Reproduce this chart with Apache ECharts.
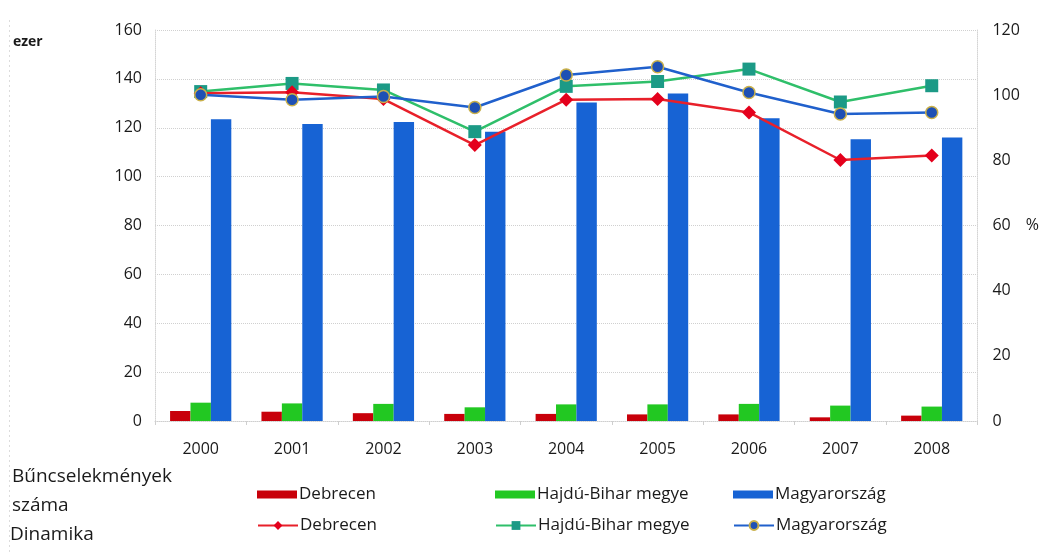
<!DOCTYPE html>
<html>
<head>
<meta charset="utf-8">
<script src="https://cdn.jsdelivr.net/npm/echarts@6/dist/echarts.min.js"></script>
<style>
html,body{margin:0;padding:0;background:#fff;}
#chart{width:1042px;height:552px;}
</style>
</head>
<body>
<div id="chart"></div>
<script>
// Data
var years = ['2000','2001','2002','2003','2004','2005','2006','2007','2008'];
// Bűncselekmények száma (ezer) - left axis
var debrecenCount = [4.1, 3.8, 3.2, 2.9, 2.9, 2.7, 2.7, 1.5, 2.2];
var hajduCount = [7.5, 7.2, 7.0, 5.6, 6.8, 6.8, 7.0, 6.3, 5.9];
var magyarCount = [123.5, 121.5, 122.4, 118.4, 130.3, 134.0, 123.9, 115.3, 116.0];
// Dinamika (%) - right axis
var debrecenDyn = [100.6, 100.9, 98.8, 84.7, 98.6, 98.8, 94.7, 80.1, 81.5];
var hajduDyn = [101.1, 103.6, 101.6, 88.8, 102.7, 104.2, 108.0, 97.9, 102.9];
var magyarDyn = [100.1, 98.6, 99.6, 96.2, 106.2, 108.7, 100.8, 94.2, 94.7];
var leftTicks = {min: 0, max: 160, interval: 20};
var rightTicks = {min: 0, max: 120, interval: 20};

var FONT = '"Open Sans", sans-serif';
var C_RED = '#c8000a', C_GREEN = '#22c822', C_BLUE = '#1763d4';
var L_RED = '#e8202a', L_GREEN = '#2fbf6a', L_BLUE = '#2060cc';

var chart = echarts.init(document.getElementById('chart'), null, {renderer: 'canvas'});

function legend(name, left, top, isLine) {
  return {
    data: [name], left: left, top: top, padding: 0,
    itemWidth: 40, itemHeight: isLine ? 11 : 8,
    icon: isLine ? undefined : 'rect',
    selectedMode: false,
    formatter: function (n) { return n.replace(' (dinamika)', ''); },
    textStyle: {fontFamily: FONT, fontSize: 17, color: '#1a1a1a', padding: [0,0,0,-3]}
  };
}

var option = {
  backgroundColor: '#fff',
  animation: false,
  grid: {left: 155, top: 30, width: 832, height: 391, containLabel: false},
  xAxis: {
    type: 'category', data: years,
    axisLine: {lineStyle: {color: '#cfcfcf', type: 'dotted'}},
    axisTick: {show: true, length: 4, lineStyle: {color: '#cfcfcf'}},
    axisLabel: {margin: 20, fontFamily: FONT, fontSize: 16, color: '#1a1a1a'}
  },
  yAxis: [{
    type: 'value', min: leftTicks.min, max: leftTicks.max, interval: leftTicks.interval,
    axisLine: {show: true, lineStyle: {color: '#d4d4d4', type: 'dotted'}},
    axisTick: {show: false},
    splitLine: {lineStyle: {color: '#d0d0d0', type: 'dotted'}},
    axisLabel: {margin: 13, fontFamily: FONT, fontSize: 16, color: '#1a1a1a'}
  }, {
    type: 'value', min: rightTicks.min, max: rightTicks.max, interval: rightTicks.interval,
    position: 'right',
    name: '%', nameLocation: 'middle', nameRotate: 0, nameGap: 48,
    nameTextStyle: {fontFamily: FONT, fontSize: 16, color: '#1a1a1a', padding: [0,0,12,0]},
    axisLine: {show: true, lineStyle: {color: '#d4d4d4', type: 'dotted'}},
    axisTick: {show: false},
    splitLine: {show: false},
    axisLabel: {margin: 15, fontFamily: FONT, fontSize: 16, color: '#1a1a1a'}
  }],
  legend: [
    legend('Debrecen', 257, 486, false),
    legend('Hajdú-Bihar megye', 495, 486, false),
    legend('Magyarország', 733, 486, false),
    legend('Debrecen (dinamika)', 257, 517, true),
    legend('Hajdú-Bihar megye (dinamika)', 495, 517, true),
    legend('Magyarország (dinamika)', 733, 517, true)
  ],
  graphic: [
    {type: 'text', left: 13, top: 35, style: {text: 'ezer', font: 'bold 14px ' + FONT, fill: '#1a1a1a'}},
    {type: 'text', left: 12, top: 467, style: {text: 'Bűncselekmények', font: '19px ' + FONT, fill: '#1a1a1a'}},
    {type: 'text', left: 12, top: 496, style: {text: 'száma', font: '19px ' + FONT, fill: '#1a1a1a'}},
    {type: 'text', left: 10, top: 525, style: {text: 'Dinamika', font: '19px ' + FONT, fill: '#1a1a1a'}},
    {type: 'line', shape: {x1: 9.5, y1: 20, x2: 9.5, y2: 552}, style: {stroke: '#dcdcdc', lineWidth: 1, lineDash: [2, 3]}}
  ],
  series: [
    {name: 'Debrecen', type: 'bar', yAxisIndex: 0, data: debrecenCount, barGap: '0%', barCategoryGap: '33%', itemStyle: {color: C_RED}, z: 2},
    {name: 'Hajdú-Bihar megye', type: 'bar', yAxisIndex: 0, data: hajduCount, barGap: '0%', barCategoryGap: '33%', itemStyle: {color: C_GREEN}, z: 2},
    {name: 'Magyarország', type: 'bar', yAxisIndex: 0, data: magyarCount, barGap: '0%', barCategoryGap: '33%', itemStyle: {color: C_BLUE}, z: 2},
    {name: 'Debrecen (dinamika)', type: 'line', yAxisIndex: 1, data: debrecenDyn,
      symbol: 'diamond', symbolSize: 14, lineStyle: {color: L_RED, width: 2.5},
      itemStyle: {color: '#e4001c'}, z: 5},
    {name: 'Hajdú-Bihar megye (dinamika)', type: 'line', yAxisIndex: 1, data: hajduDyn,
      symbol: 'rect', symbolSize: 13, lineStyle: {color: L_GREEN, width: 2.5},
      itemStyle: {color: '#1c9a86'}, z: 4},
    {name: 'Magyarország (dinamika)', type: 'line', yAxisIndex: 1, data: magyarDyn,
      symbol: 'circle', symbolSize: 12, lineStyle: {color: L_BLUE, width: 2.5},
      itemStyle: {color: '#1e50b4', borderColor: '#c9b04a', borderWidth: 1.5}, z: 6}
  ]
};
chart.setOption(option);
</script>
</body>
</html>
